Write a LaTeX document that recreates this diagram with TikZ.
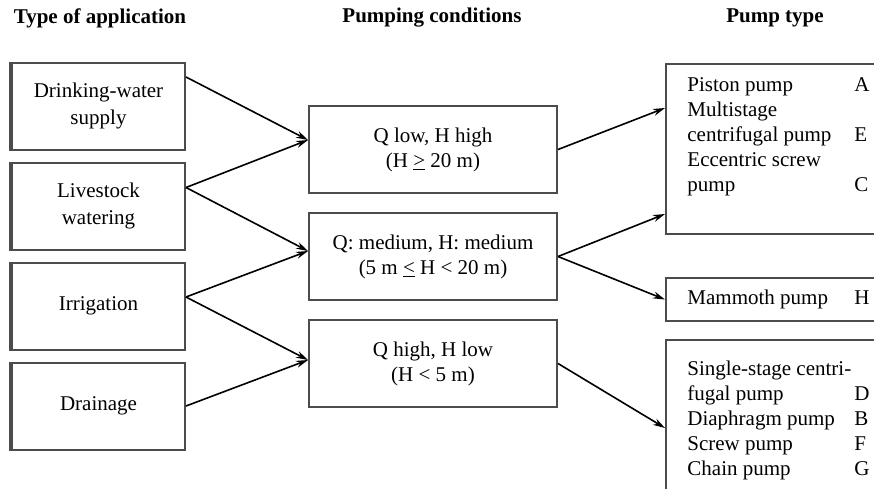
\documentclass[tikz,border=0pt]{standalone}
\usepackage{fontspec}
\setmainfont{Liberation Serif}
\usetikzlibrary{positioning,arrows.meta}

\begin{document}
\begin{tikzpicture}[
  x=0.5pt, y=-0.5pt,
  node distance=5.5pt and 0pt,
  appbox/.style={draw=black!70,line width=1pt,minimum width=86.5pt,minimum height=43.5pt,align=center,font=\fontsize{10.5}{13.5}\selectfont},
  condbox/.style={draw=black!70,line width=1pt,minimum width=124pt,minimum height=43.5pt,align=center,font=\fontsize{10.5}{12.5}\selectfont},
  pumpbox/.style={draw=black!70,line width=1pt,anchor=north west,minimum width=112.5pt,inner xsep=10pt,align=left,font=\fontsize{10.5}{12.5}\selectfont},
  head/.style={font=\fontsize{10.5}{12.5}\selectfont\bfseries},
  flow/.style={-{Stealth[length=6pt,width=3.5pt]},line width=0.8pt}]
\useasboundingbox (0,0) rectangle (874,488);
\clip (0,0) rectangle (874,488);

\node[head] (h1) at (100,18) {Type of application};
\node[head] (h2) at (432,18) {Pumping conditions};
\node[head] (h3) at (775,18) {Pump type};

\node[appbox] (dw) at (98.5,106) {Drinking-water\\supply};
\node[appbox, below=of dw] (ls) {Livestock\\watering};
\node[appbox, below=of ls] (ir) {Irrigation};
\node[appbox, below=of ir] (dr) {Drainage};
\foreach \n in {dw,ls,ir,dr}
  \draw[black!70,line width=1.8pt] (\n.north west) -- (\n.south west);

\node[condbox] (c1) at (433,149.5) {Q low, H high\\(H \underline{>} 20 m)};
\node[condbox, below=9pt of c1] (c2) {Q: medium, H: medium\\(5 m \underline{<} H < 20 m)};
\node[condbox, below=9pt of c2] (c3) {Q high, H low\\(H < 5 m)};

\node[pumpbox, inner ysep=5pt] (pa) at (665,63) {\begin{tabular}{@{}p{83.5pt}@{}l@{}}
Piston pump & A\\
Multistage & \\
centrifugal pump & E\\
Eccentric screw & \\
pump & C\\
 & \\
\end{tabular}};
\node[pumpbox, minimum height=21.5pt] (pm) at (665,277) {\begin{tabular}{@{}p{83.5pt}@{}l@{}}
Mammoth pump & H\\
\end{tabular}};
\node[pumpbox, inner ysep=9pt] (pd) at (665,339) {\begin{tabular}{@{}p{83.5pt}@{}l@{}}
\multicolumn{2}{@{}l@{}}{Single-stage centri-}\\
fugal pump & D\\
Diaphragm pump & B\\
Screw pump & F\\
Chain pump & G\\
\end{tabular}};

\draw[flow] ([yshift=14.5pt]dw.east) -- ([yshift=4.75pt]c1.west);
\draw[flow] ([yshift=9.25pt]ls.east) -- ([yshift=4.75pt]c1.west);
\draw[flow] ([yshift=9.25pt]ls.east) -- ([yshift=2.75pt]c2.west);
\draw[flow] ([yshift=4.5pt]ir.east) -- ([yshift=2.75pt]c2.west);
\draw[flow] ([yshift=4.5pt]ir.east) -- ([yshift=1.75pt]c3.west);
\draw[flow] (dr.east) -- ([yshift=1.75pt]c3.west);
\draw[flow] (c1.east) -- ([yshift=-22.5pt]pa.north west);
\draw[flow] (c2.east) -- ([yshift=-75.5pt]pa.north west);
\draw[flow] (c2.east) -- (pm.west);
\draw[flow] (c3.east) -- ([yshift=-44.5pt]pd.north west);
\end{tikzpicture}
\end{document}
